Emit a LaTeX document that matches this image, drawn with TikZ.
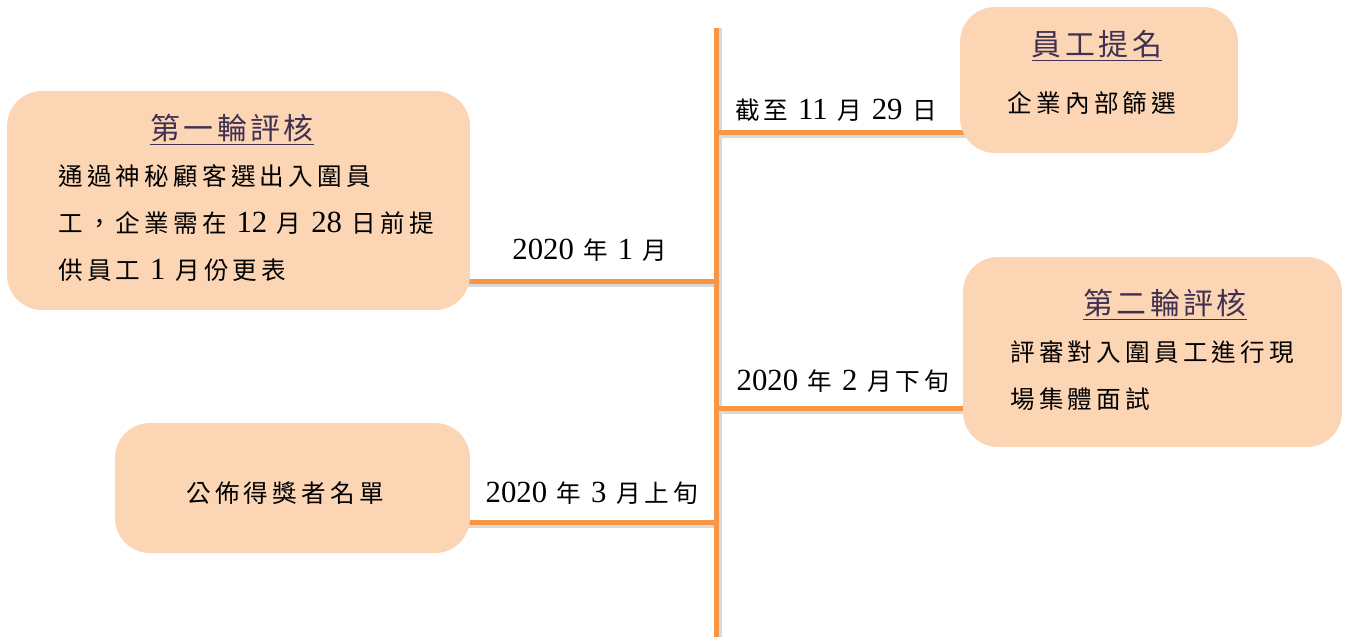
\documentclass[tikz,border=0pt]{standalone}
\usepackage{fontspec}
\newfontfamily\cjk[LetterSpace=17]{Noto Sans CJK TC}
\newfontfamily\cjktitle[LetterSpace=12]{Noto Sans CJK TC}
\newfontfamily\digitfont[Scale=1.25]{Liberation Serif}
\newcommand{\tlnum}[1]{{\digitfont #1}}
\definecolor{tlorange}{RGB}{247,150,70}
\definecolor{tlpeach}{RGB}{252,213,181}
\definecolor{tlpurple}{RGB}{64,49,82}
\usetikzlibrary{positioning,backgrounds}

\tikzset{
  stagebox/.style={fill=tlpeach, rounded corners=0.7cm, inner sep=0pt},
  stagetitle/.style={font=\cjktitle\fontsize{17}{20}\selectfont, text=tlpurple, inner sep=0pt},
  stagetext/.style={font=\cjk\fontsize{14}{26.7}\selectfont, align=left, inner sep=0pt},
  datelabel/.style={font=\cjk\fontsize{14}{17}\selectfont, inner sep=0pt},
  timeline/.style={tlorange, line width=0.1cm},
  lineshadow/.style={black!15, line width=0.1cm},
}

\begin{document}
\begin{tikzpicture}[x=0.02cm, y=-0.02cm]
    \useasboundingbox (0,0) rectangle (1351,637);
    % Axis end points and branch points
    \coordinate (top) at (716,28);
    \coordinate (bottom) at (716,637);
    \coordinate (a1) at (716,132);
    \coordinate (a2) at (716,281);
    \coordinate (a3) at (716,408);
    \coordinate (a4) at (716,522);

    % Stage boxes
    \node[stagebox, minimum width=5.56cm, minimum height=2.92cm] (nominate) at (1099,80) {};
    \node[stagebox, minimum width=9.26cm, minimum height=4.38cm] (round1) at (238.5,200.5) {};
    \node[stagebox, minimum width=7.58cm, minimum height=3.8cm] (round2) at (1152.5,352) {};
    \node[stagebox, minimum width=7.1cm, minimum height=2.6cm] (announce) at (292.5,488) {};

    % Axis and branches, behind the boxes
    \begin{scope}[on background layer]
      \draw[lineshadow] ([xshift=0.06cm]top) -- ([xshift=0.06cm]bottom);
      \draw[lineshadow] ([yshift=-0.06cm]a1) -- ([yshift=-0.06cm]nominate.center |- a1);
      \draw[lineshadow] ([yshift=-0.06cm]round1.center |- a2) -- ([yshift=-0.06cm]a2);
      \draw[lineshadow] ([yshift=-0.06cm]a3) -- ([yshift=-0.06cm]round2.center |- a3);
      \draw[lineshadow] ([yshift=-0.06cm]announce.center |- a4) -- ([yshift=-0.06cm]a4);
      \draw[timeline] (top) -- (bottom);
      \draw[timeline] (a1) -- (nominate.center |- a1);
      \draw[timeline] (round1.center |- a2) -- (a2);
      \draw[timeline] (a3) -- (round2.center |- a3);
      \draw[timeline] (announce.center |- a4) -- (a4);
    \end{scope}

    % Box texts
    \node[stagetitle] (nominatetitle) at (1097,46) {\underline{員工提名}};
    \node[stagetext] (nominatetext) at (1092,103) {企業內部篩選};
    \node[stagetitle] (round1title) at (232,130) {\underline{第一輪評核}};
    \node[stagetext, anchor=west] (round1text) at (58,223)
      {通過神秘顧客選出入圍員\\工，企業需在 \tlnum{12} 月 \tlnum{28} 日前提\\供員工 \tlnum{1} 月份更表};
    \node[stagetitle] (round2title) at (1165,305) {\underline{第二輪評核}};
    \node[stagetext, anchor=west] (round2text) at (1010,376)
      {評審對入圍員工進行現\\場集體面試};
    \node[stagetext] (announcetext) at (285,493) {公佈得獎者名單};

    % Date labels
    \node[datelabel] (date1) at (836,110) {截至 \tlnum{11} 月 \tlnum{29} 日};
    \node[datelabel] (date2) at (590,250) {\tlnum{2020} 年 \tlnum{1} 月};
    \node[datelabel] (date3) at (843,381) {\tlnum{2020} 年 \tlnum{2} 月下旬};
    \node[datelabel] (date4) at (592,493) {\tlnum{2020} 年 \tlnum{3} 月上旬};
\end{tikzpicture}
\end{document}
